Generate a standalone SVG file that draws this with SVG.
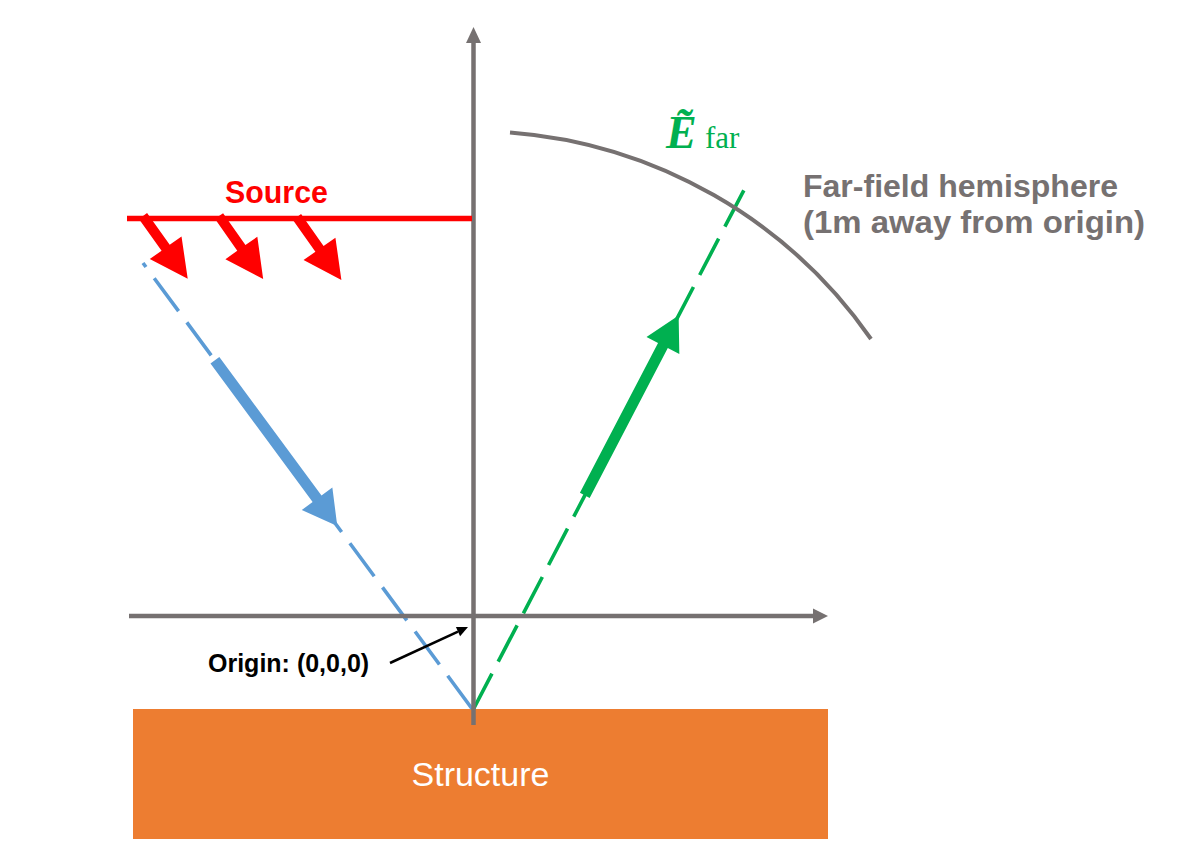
<svg xmlns="http://www.w3.org/2000/svg" xmlns:xlink="http://www.w3.org/1999/xlink" width="1184" height="865" viewBox="0 0 1184 865">
<style>
.axis{stroke:#767171;stroke-width:4.5;fill:none}
.axhead{fill:#767171}
.lbl{font-family:"Liberation Sans",Arial,sans-serif}
.b{font-weight:bold}
</style>
<defs>
<path id="redArrow" d="M0,-5 L39,-5 L39,-19.5 L77,0 L39,19.5 L39,5 L0,5 Z"/>
</defs>
<rect width="1184" height="865" fill="#ffffff"/>
<g id="structure">
<rect x="133" y="709" width="695" height="130" fill="#ED7D31"/>
<text class="lbl" x="480.5" y="786" font-size="34" fill="#ffffff" text-anchor="middle">Structure</text>
</g>
<g id="connectors">
<path d="M143,263 L473,710" stroke="#5B9BD5" stroke-width="3.6" fill="none" stroke-dasharray="41 13.9" stroke-dashoffset="36"/>
<path d="M473,710 L744,190" stroke="#00B050" stroke-width="3.6" fill="none" stroke-dasharray="41 13.5"/>
<g transform="translate(214.9,360.3) rotate(53.56)"><path d="M0,-5.5 L172,-5.5 L172,-19 L206,0 L172,19 L172,5.5 L0,5.5 Z" fill="#5B9BD5"/></g>
<g transform="translate(584.8,495.4) rotate(-62.47)"><path d="M0,-5.5 L169,-5.5 L169,-18.5 L203,0 L169,18.5 L169,5.5 L0,5.5 Z" fill="#00B050"/></g>
<g id="source-arrows" fill="#FF0000">
<use xlink:href="#redArrow" transform="translate(143,216) rotate(54.5)"/>
<use xlink:href="#redArrow" transform="translate(219,216) rotate(55)"/>
<use xlink:href="#redArrow" transform="translate(297,217) rotate(54.8)"/>
</g>
<path d="M390,663 L458,631.6" stroke="#000000" stroke-width="2.5" fill="none"/>
<polygon points="468,627 455.9,627.1 460.1,636.2" fill="#000000"/>
</g>
<g id="axes">
<path class="axis" d="M473.5,725 L473.5,41"/>
<polygon class="axhead" points="473.5,27 466,43 481,43"/>
<path class="axis" d="M129,616 L815,616"/>
<polygon class="axhead" points="828,616 813,608.5 813,623.5"/>
</g>
<g id="source">
<path d="M127,218.5 L472,218.5" stroke="#FF0000" stroke-width="5.5" fill="none"/>
<text class="lbl b" x="225" y="203" font-size="31" fill="#FF0000" textLength="103" lengthAdjust="spacingAndGlyphs">Source</text>
</g>
<g id="hemisphere">
<path d="M510,132.4 A485,485 0 0 1 871,339" stroke="#767171" stroke-width="4" fill="none"/>
<text class="lbl b" x="803" y="197" font-size="32" fill="#767171" textLength="315" lengthAdjust="spacingAndGlyphs">Far-field hemisphere</text>
<text class="lbl b" x="803" y="233" font-size="32" fill="#767171" textLength="342" lengthAdjust="spacingAndGlyphs">(1m away from origin)</text>
</g>
<g id="efar" fill="#00B050" font-family="'Liberation Serif','Times New Roman',serif">
<text x="666" y="148"><tspan font-size="46" font-weight="bold" font-style="italic">Ẽ</tspan><tspan x="705" font-size="31">far</tspan></text>
</g>
<g id="origin">
<text class="lbl b" x="208" y="672" font-size="25" fill="#000000">Origin: (0,0,0)</text>
</g>
</svg>
